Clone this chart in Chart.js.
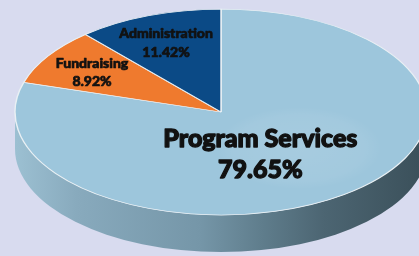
<!DOCTYPE html>
<html>
<head>
<meta charset="utf-8">
<script src="https://cdn.jsdelivr.net/npm/chart.js@4.4.1/dist/chart.umd.min.js"></script>
<style>
  html, body { margin: 0; padding: 0; background: #d8dbef; overflow: hidden; width: 419px; height: 256px; }
  #wrap { position: absolute; left: 0; top: 0; width: 419px; height: 512px; }
</style>
</head>
<body>
<div id="wrap"><canvas id="c" width="419" height="512"></canvas></div>
<script>
// Data (clockwise from 12 o'clock)
const categories = ['Program Services', 'Fundraising', 'Administration'];
const percentValues = [79.65, 8.92, 11.42];
const valueLabels = ['79.65%', '8.92%', '11.42%'];
const sliceColors = ['#9dc6dc', '#ef7a2e', '#0b4a86'];

// Visual settings
const VIEW = { cx: 221, cy: 112, squash: 0.5, depth: 37 };
const LABEL_LAYOUT = [
  { fx: 0.32, fy: 0.508, font: 25, gap: 31, stroke: 1.3 },
  { fx: 0.745, fy: 0.711, font: 14, gap: 18, stroke: 0.7 },
  { fx: 0.76, fy: 0.711, font: 14, gap: 19, stroke: 0.7 }
];

const tiltPlugin = {
  id: 'tilt',
  beforeDatasetsDraw(chart) {
    const ctx = chart.ctx;
    const arcs = chart.getDatasetMeta(0).data;
    if (!arcs.length) return;
    const a0 = arcs[0];
    const cx = a0.x, cy = a0.y;
    ctx.save();
    ctx.translate(VIEW.cx, VIEW.cy);
    ctx.scale(1, VIEW.squash);
    ctx.translate(-cx, -cy);
    const D = VIEW.depth / VIEW.squash;
    // side walls for front-facing parts of each slice
    arcs.forEach((arc) => {
      const s = arc.startAngle, e = arc.endAngle;
      const segs = [];
      for (let k = -1; k <= 1; k++) {
        const lo = Math.max(s, 2 * Math.PI * k);
        const hi = Math.min(e, Math.PI + 2 * Math.PI * k);
        if (hi > lo) segs.push([lo, hi]);
      }
      const r = arc.outerRadius;
      segs.forEach(([lo, hi]) => {
        const g = ctx.createLinearGradient(cx - r, 0, cx + r, 0);
        g.addColorStop(0, '#9cc0d2');
        g.addColorStop(0.15, '#88aabd');
        g.addColorStop(0.45, '#7596a8');
        g.addColorStop(0.6, '#5f7d8c');
        g.addColorStop(0.75, '#4c6572');
        g.addColorStop(1, '#3a4f59');
        ctx.beginPath();
        ctx.arc(cx, cy + D, r, lo, hi, false);
        ctx.lineTo(cx + r * Math.cos(hi), cy + r * Math.sin(hi));
        ctx.arc(cx, cy, r, hi, lo, true);
        ctx.closePath();
        ctx.fillStyle = g;
        ctx.fill();
      });
    });
  },
  afterDatasetsDraw(chart) {
    const ctx = chart.ctx;
    const arcs = chart.getDatasetMeta(0).data;
    if (!arcs.length) return;
    const a0 = arcs[0];
    const cx = a0.x, cy = a0.y, r = a0.outerRadius;
    const hx = cx + 0.38 * r, hy = cy + 0.35 * r;
    const hg = ctx.createRadialGradient(hx, hy, 0, hx, hy, 0.4 * r);
    hg.addColorStop(0, 'rgba(255,255,255,0.10)');
    hg.addColorStop(0.8, 'rgba(255,255,255,0.06)');
    hg.addColorStop(1, 'rgba(255,255,255,0)');
    ctx.fillStyle = hg;
    ctx.beginPath();
    ctx.arc(hx, hy, 0.4 * r, 0, Math.PI * 2);
    ctx.fill();
    ctx.restore();
    // labels in screen space
    ctx.save();
    ctx.fillStyle = '#111';
    ctx.strokeStyle = '#111';
    ctx.lineJoin = 'round';
    ctx.textAlign = 'center';
    ctx.textBaseline = 'middle';
    arcs.forEach((arc, i) => {
      const L = LABEL_LAYOUT[i];
      const mid = (arc.startAngle + arc.endAngle) / 2;
      const x = VIEW.cx + Math.cos(mid) * arc.outerRadius * L.fx;
      const y = VIEW.cy + Math.sin(mid) * arc.outerRadius * VIEW.squash * L.fy;
      ctx.font = '900 ' + L.font + 'px Lato, "DejaVu Sans", sans-serif';
      ctx.lineWidth = L.stroke;
      [[categories[i], y - L.gap / 2], [valueLabels[i], y + L.gap / 2]].forEach(([t, ty]) => {
        ctx.strokeText(t, x, ty);
        ctx.fillText(t, x, ty);
      });
    });
    ctx.restore();
  }
};

new Chart(document.getElementById('c'), {
  type: 'pie',
  data: {
    labels: categories,
    datasets: [{
      data: percentValues,
      backgroundColor: sliceColors,
      borderColor: '#e9f0f4',
      borderWidth: 1.5,
      radius: 206
    }]
  },
  options: {
    responsive: false,
    devicePixelRatio: 1,
    animation: false,
    rotation: 0,
    layout: { padding: 0 },
    plugins: { legend: { display: false }, tooltip: { enabled: false } }
  },
  plugins: [tiltPlugin]
});
</script>
</body>
</html>
